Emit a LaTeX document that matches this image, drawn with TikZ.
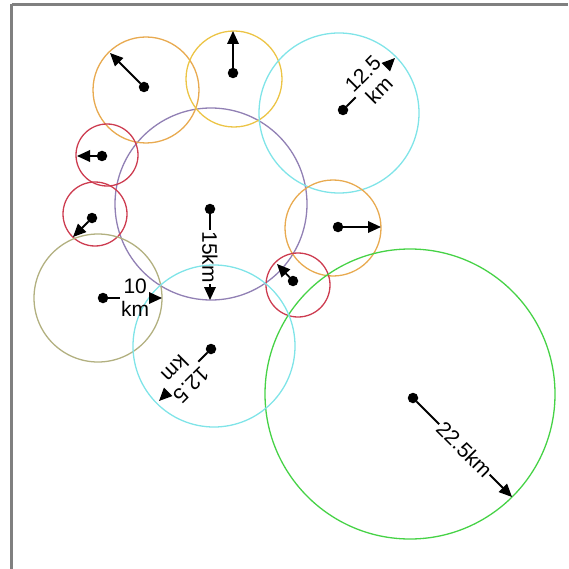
\documentclass[tikz,border=0pt]{standalone}
\usepackage{fontspec}
\setmainfont{Liberation Sans}
\usetikzlibrary{arrows.meta}
\definecolor{framegray}{RGB}{128,128,128}
\definecolor{lavender}{RGB}{145,128,180}
\definecolor{amber}{RGB}{232,170,80}
\definecolor{gold}{RGB}{236,196,70}
\definecolor{aqua}{RGB}{128,228,232}
\definecolor{rose}{RGB}{205,60,80}
\definecolor{khaki}{RGB}{178,176,128}
\definecolor{lime}{RGB}{70,210,70}
\begin{document}
\begin{tikzpicture}[x=1pt,y=-1pt,
    ring/.style={line width=1.3pt},
    dot/.style={circle,fill=black,inner sep=0pt,minimum size=10.5pt},
    rad/.style={line width=1.8pt,-{Triangle[length=13pt,width=11.5pt]}},
    lab/.style={inner sep=1pt,align=center,
                font=\fontsize{21}{23}\selectfont}]
    \useasboundingbox (0,0) rectangle (568,569);

    % frame, top and left only
    \draw[framegray,line width=3pt] (11.5,4.5) -- (568,4.5);
    \draw[framegray,line width=3pt] (11.5,4.5) -- (11.5,569);

    % circles
    \draw[ring,lavender] (211,204) circle[radius=96];
    \draw[ring,amber]    (146,90)  circle[radius=53];
    \draw[ring,gold]     (234,79)  circle[radius=48];
    \draw[ring,rose]     (107,155) circle[radius=31];
    \draw[ring,rose]     (95,214)  circle[radius=32];
    \draw[ring,aqua]     (339,113) circle[radius=80];
    \draw[ring,amber]    (333,228) circle[radius=48];
    \draw[ring,rose]     (298,285) circle[radius=32];
    \draw[ring,lime]     (410,394) circle[radius=145];
    \draw[ring,khaki]    (98,298)  circle[radius=64];
    \draw[ring,aqua]     (214,346) circle[radius=81];

    % centre dots
    \node[dot] (dP)  at (210,209) {};
    \node[dot] (dO1) at (144,87)  {};
    \node[dot] (dY)  at (233,73)  {};
    \node[dot] (dR1) at (102,156) {};
    \node[dot] (dR2) at (92,218)  {};
    \node[dot] (dC1) at (343,110) {};
    \node[dot] (dO2) at (338,227) {};
    \node[dot] (dR3) at (293,281) {};
    \node[dot] (dG)  at (413,398) {};
    \node[dot] (dK)  at (103,298) {};
    \node[dot] (dC2) at (211,349) {};

    % arrow ends on the rims
    \coordinate (tP)  at (210,300);
    \coordinate (tO1) at (110,53);
    \coordinate (tY)  at (233,31);
    \coordinate (tR1) at (77,156);
    \coordinate (tR2) at (73,237);
    \coordinate (tC1) at (395,58);
    \coordinate (tO2) at (381,227);
    \coordinate (tR3) at (277,264);
    \coordinate (tG)  at (512,497);
    \coordinate (tK)  at (162,298);
    \coordinate (tC2) at (159,401);

    % radius arrows without labels
    \draw[rad] (dO1) -- (tO1);
    \draw[rad] (dY) -- (tY);
    \draw[rad] (dR1) -- (tR1);
    \draw[rad] (dR2) -- (tR2);
    \draw[rad] (dO2) -- (tO2);
    \draw[rad] (dR3) -- (tR3);

    % labels half way along the radius
    \path (dP) -- (tP) node[lab,midway,rotate=-90] (lP) {15km};
    \path (dC1) -- (tC1) node[lab,midway,rotate=45] (lC1) {12.5\\km};
    \path (dG) -- (tG) node[lab,midway,rotate=-45] (lG) {22.5km};
    \path (dK) -- (tK) node[lab,midway] (lK) {10\\km};
    \path (dC2) -- (tC2) node[lab,midway,rotate=225] (lC2) {12.5\\km};

    % radius arrows broken by the labels
    \draw[line width=1.8pt] (dP) -- (lP);
    \draw[rad] (lP) -- (tP);
    \draw[line width=1.8pt] (dC1) -- (lC1);
    \draw[rad] (lC1) -- (tC1);
    \draw[line width=1.8pt] (dG) -- (lG);
    \draw[rad] (lG) -- (tG);
    \draw[line width=1.8pt] (dK) -- (lK);
    \draw[rad] (lK) -- (tK);
    \draw[line width=1.8pt] (dC2) -- (lC2);
    \draw[rad] (lC2) -- (tC2);
\end{tikzpicture}
\end{document}
